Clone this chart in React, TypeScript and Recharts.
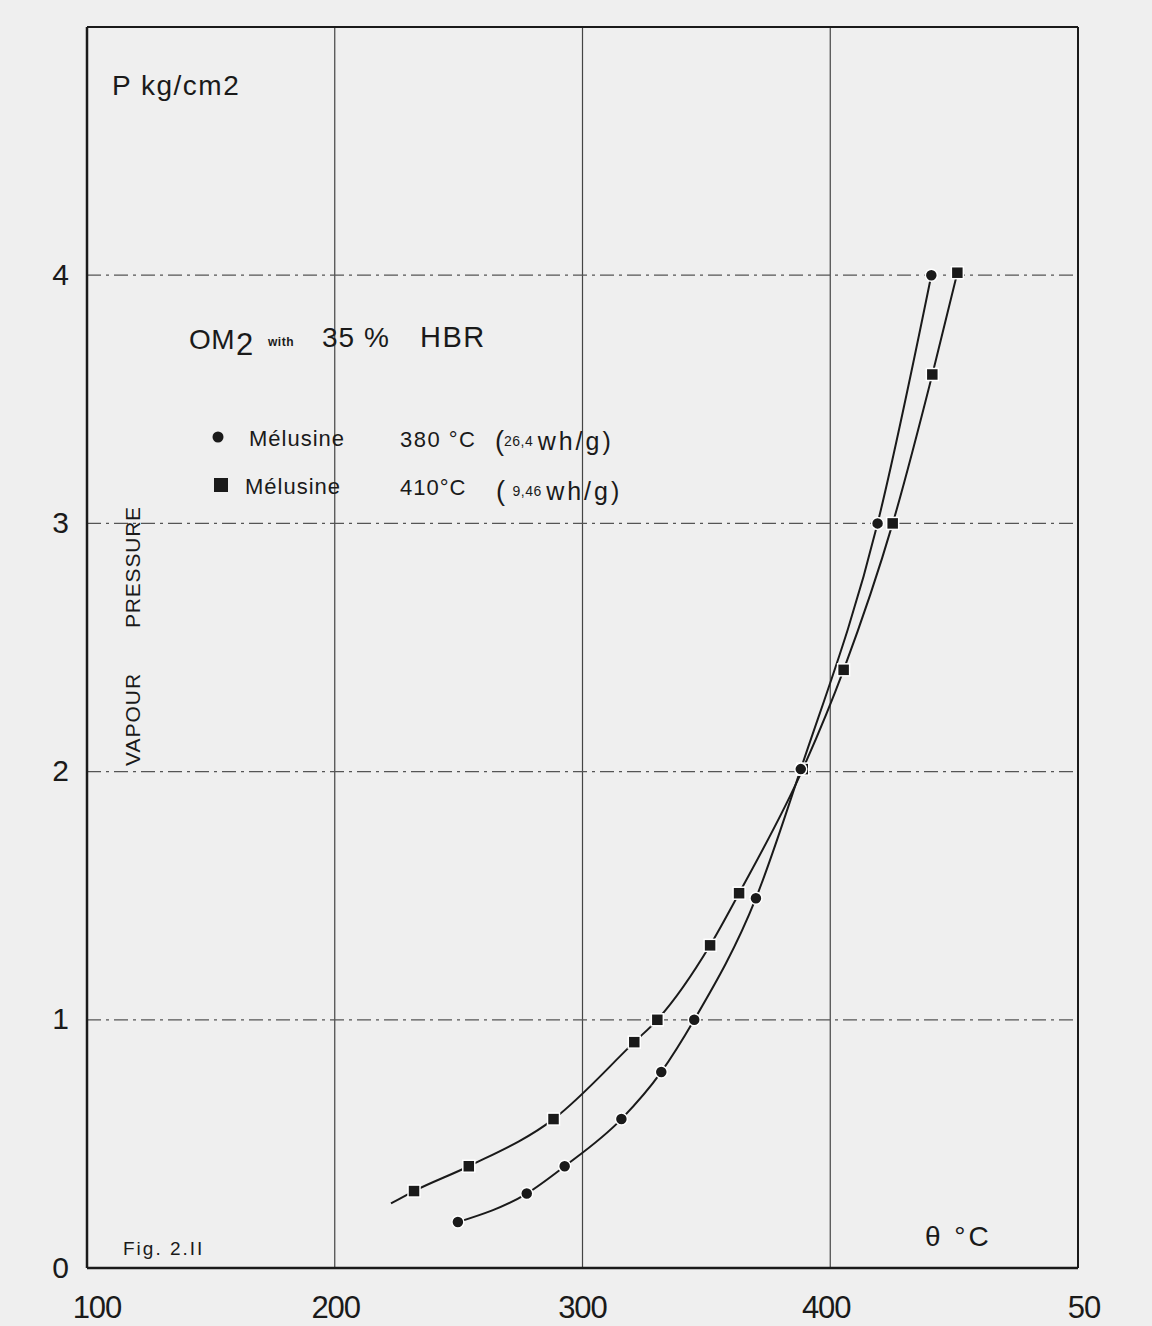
import { LineChart, Line, XAxis, YAxis, ReferenceLine } from 'recharts'

// temperature (°C) vs vapour pressure (kg/cm2)
const melusine380 = [
  { t: 249.7, p: 0.185 },
  { t: 277.5, p: 0.3 },
  { t: 292.8, p: 0.41 },
  { t: 315.7, p: 0.6 },
  { t: 331.8, p: 0.79 },
  { t: 345.1, p: 1.0 },
  { t: 370.0, p: 1.49 },
  { t: 388.1, p: 2.01 },
  { t: 419.1, p: 3.0 },
  { t: 440.8, p: 4.0 },
]

const melusine410 = [
  { t: 222.7, p: 0.26, mark: false },
  { t: 232.0, p: 0.31 },
  { t: 254.1, p: 0.41 },
  { t: 288.3, p: 0.6 },
  { t: 320.9, p: 0.91 },
  { t: 330.2, p: 1.0 },
  { t: 351.5, p: 1.3 },
  { t: 363.2, p: 1.51 },
  { t: 388.9, p: 2.01 },
  { t: 405.4, p: 2.41 },
  { t: 425.2, p: 3.0 },
  { t: 441.2, p: 3.6 },
  { t: 451.3, p: 4.01 },
]

const xTicks = [100, 200, 300, 400, 500]
const xTickLabels = ['100', '200', '300', '400', '50']
const yTicks = [0, 1, 2, 3, 4]
const xGrid = [200, 300, 400]
const yGrid = [1, 2, 3, 4]

const FONT = '"Liberation Sans", Arial, sans-serif'
const BG = '#efefef'
const INK = '#1a1a1a'

function CircleDot(props: any) {
  const { cx, cy, index } = props
  return <circle key={`c${index}`} cx={cx} cy={cy} r={6} fill={INK} stroke="#fff" strokeWidth={1.5} />
}

function SquareDot(props: any) {
  const { cx, cy, index, payload } = props
  if (payload.mark === false) return <g key={`s${index}`} />
  return <rect key={`s${index}`} x={cx - 6} y={cy - 6} width={12} height={12} fill={INK} stroke="#fff" strokeWidth={1.5} />
}

function XTick(props: any) {
  const { x, y, payload, index } = props
  const shift = [10, 1, 0, -4, 6][index] ?? 0
  return (
    <text x={x + shift} y={y} dy="0.71em" textAnchor="middle" fontSize={31} fill={INK} fontFamily={FONT} letterSpacing={-1}>
      {xTickLabels[index] ?? payload.value}
    </text>
  )
}

export default function App() {
  return (
    <div style={{ position: 'absolute', left: 0, top: 0, width: 1152, height: 1326, background: BG, overflow: 'hidden' }}>
      <LineChart width={1152} height={1326} margin={{ top: 27, right: 74, bottom: 18, left: 27 }}>
        <XAxis
          dataKey="t"
          type="number"
          domain={[100, 500]}
          ticks={xTicks}
          allowDataOverflow
          axisLine={false}
          tickLine={false}
          tickSize={0}
          tickMargin={28}
          height={40}
          tick={<XTick />}
        />
        <YAxis
          type="number"
          domain={[0, 5]}
          ticks={yTicks}
          allowDataOverflow
          axisLine={false}
          tickLine={false}
          tickSize={0}
          tickMargin={18}
          width={60}
          tick={{ fontSize: 30, fill: INK, fontFamily: FONT, dy: -1 }}
        />
        {xGrid.map((v) => (
          <ReferenceLine key={`vx${v}`} x={v} stroke="#444" strokeWidth={1.2} />
        ))}
        {yGrid.map((v) => (
          <ReferenceLine key={`hy${v}`} y={v} stroke="#555" strokeWidth={1.2} strokeDasharray="14 5 3 5" />
        ))}
        <ReferenceLine x={100} stroke={INK} strokeWidth={2.5} />
        <ReferenceLine x={500} stroke={INK} strokeWidth={2} />
        <ReferenceLine y={0} stroke={INK} strokeWidth={2.5} />
        <ReferenceLine y={5} stroke={INK} strokeWidth={2} />
        <Line
          data={melusine410}
          dataKey="p"
          type="monotone"
          stroke={INK}
          strokeWidth={2}
          dot={<SquareDot />}
          activeDot={false}
          isAnimationActive={false}
        />
        <Line
          data={melusine380}
          dataKey="p"
          type="monotone"
          stroke={INK}
          strokeWidth={2}
          dot={<CircleDot />}
          activeDot={false}
          isAnimationActive={false}
        />
      </LineChart>

      <svg width={1152} height={1326} style={{ position: 'absolute', left: 0, top: 0, pointerEvents: 'none' }} fontFamily={FONT} fill={INK}>
        <text x={112} y={95} fontSize={28} letterSpacing={1.5}>P kg/cm2</text>

        <text x={189} y={349} fontSize={28} letterSpacing={0.5}>OM</text>
        <text x={236} y={355} fontSize={31}>2</text>
        <text x={268} y={346} fontSize={12} fontWeight="bold" letterSpacing={0.5}>with</text>
        <text x={322} y={347} fontSize={28} letterSpacing={1}>35 %</text>
        <text x={420} y={347} fontSize={29} letterSpacing={1.5}>HBR</text>

        <circle cx={218} cy={437} r={5.5} />
        <text x={249} y={446} fontSize={22} letterSpacing={1}>Mélusine</text>
        <text x={400} y={447} fontSize={22} letterSpacing={1.5}>380 °C</text>
        <text x={495} y={450} fontSize={27}>(<tspan fontSize={14} dy={-4} letterSpacing={0.5}>26,4 </tspan><tspan dy={4} fontSize={25} letterSpacing={3}> wh/g)</tspan></text>

        <rect x={214} y={478} width={14} height={14} />
        <text x={245} y={494} fontSize={22} letterSpacing={1}>Mélusine</text>
        <text x={400} y={495} fontSize={22} letterSpacing={1}>410°C</text>
        <text x={496} y={500} fontSize={27}>( <tspan fontSize={14} dy={-4} letterSpacing={0.5}>9,46 </tspan><tspan dy={4} fontSize={25} letterSpacing={3}> wh/g)</tspan></text>

        <text transform="translate(140,628) rotate(-90)" fontSize={21} letterSpacing={0.8}>PRESSURE</text>
        <text transform="translate(140,766) rotate(-90)" fontSize={21} letterSpacing={1}>VAPOUR</text>

        <text x={123} y={1255} fontSize={19} letterSpacing={2}>Fig. 2.II</text>
        <text x={925} y={1246} fontSize={28} letterSpacing={3}>θ °C</text>
      </svg>
    </div>
  )
}
